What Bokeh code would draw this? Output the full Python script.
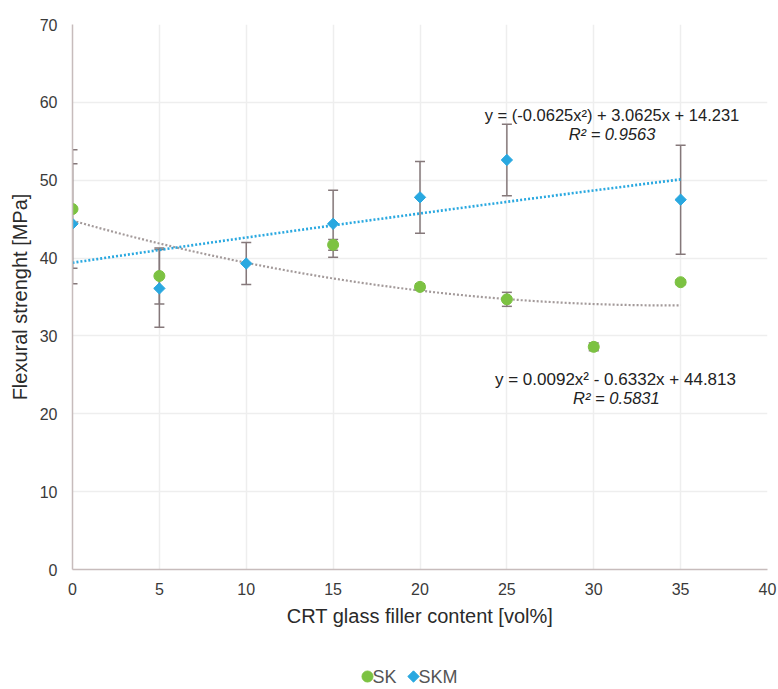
from bokeh.plotting import figure
from bokeh.layouts import column
from bokeh.models import ColumnDataSource, Whisker, TeeHead, Label, FixedTicker
from bokeh.core.properties import value
from bokeh.embed import file_html
from bokeh.resources import INLINE
import numpy as np

# ---- data ----
sk_x = [0, 5, 15, 20, 25, 30, 35]
sk_y = [46.3, 37.7, 41.7, 36.3, 34.7, 28.6, 36.9]
sk_err = [7.6, 3.6, 0.7, 0.4, 0.9, 0.5, 0.3]

skm_x = [0, 5, 10, 15, 20, 25, 35]
skm_y = [44.4, 36.1, 39.3, 44.4, 47.8, 52.6, 47.5]
skm_err = [7.7, 5.0, 2.7, 4.3, 4.6, 4.6, 7.0]

# trend-line coefficients (c2, c1, c0)
sk_trend = [0.0092, -0.6332, 44.813]
skm_trend = [-0.00071, 0.3307, 39.4]
trend_range = [0, 35]

x_ticks = [0, 5, 10, 15, 20, 25, 30, 35, 40]
y_ticks = [0, 10, 20, 30, 40, 50, 60, 70]

series_names = ["SK", "SKM"]
eq_skm = "y = (-0.0625x²) + 3.0625x + 14.231"
r2_skm = "R² = 0.9563"
eq_sk = "y = 0.0092x² - 0.6332x + 44.813"
r2_sk = "R² = 0.5831"

FONT = "Liberation Sans"
GREEN = "#7cc242"
BLUE = "#29a8e0"
ERR = "#85787a"

p = figure(width=778, height=640, x_range=(0, 40), y_range=(0, 70),
           output_backend="svg", toolbar_location=None,
           min_border_left=72, min_border_right=11, min_border_top=24,
           min_border_bottom=71)
p.outline_line_color = None
p.background_fill_color = "white"

for ax in (p.xaxis[0], p.yaxis[0]):
    ax.major_tick_line_color = None
    ax.minor_tick_line_color = None
    ax.major_tick_out = 0
    ax.axis_line_color = "#c7bcbc"
    ax.axis_line_width = 1.5
    ax.major_label_text_font = FONT
    ax.major_label_text_font_size = "16px"
    ax.major_label_text_color = "#3a3a3a"
    ax.axis_label_text_font = FONT
    ax.axis_label_text_font_size = "20px"
    ax.axis_label_text_font_style = "normal"
    ax.axis_label_text_color = "#2a2a2a"

p.xaxis.ticker = FixedTicker(ticks=x_ticks)
p.yaxis.ticker = FixedTicker(ticks=y_ticks)
p.xaxis.axis_label = "CRT glass filler content [vol%]"
p.yaxis.axis_label = "Flexural strenght [MPa]"
p.xaxis.major_label_standoff = 13
p.yaxis.major_label_standoff = 15
p.xaxis.axis_label_standoff = 7
p.yaxis.axis_label_standoff = 6

p.xgrid.grid_line_color = "#eeeeee"
p.ygrid.grid_line_color = "#eeeeee"
p.xgrid.grid_line_width = 1.5
p.ygrid.grid_line_width = 1.5

# trend lines
xs = np.linspace(trend_range[0], trend_range[1], 100)
sk_fit = np.polyval(sk_trend, xs)
skm_fit = np.polyval(skm_trend, xs)
p.line(xs, sk_fit, line_color="#a39a9a", line_width=2.2, line_dash="2 2")
p.line(xs, skm_fit, line_color=BLUE, line_width=2.6, line_dash="2 2")

# error bars
sk_src = ColumnDataSource(dict(x=sk_x, y=sk_y,
                               lo=[a - b for a, b in zip(sk_y, sk_err)],
                               hi=[a + b for a, b in zip(sk_y, sk_err)]))
skm_src = ColumnDataSource(dict(x=skm_x, y=skm_y,
                                lo=[a - b for a, b in zip(skm_y, skm_err)],
                                hi=[a + b for a, b in zip(skm_y, skm_err)]))
for src in (sk_src, skm_src):
    w = Whisker(base="x", lower="lo", upper="hi", source=src,
                line_color=ERR, line_width=1.5,
                upper_head=TeeHead(size=10, line_color=ERR, line_width=1.5),
                lower_head=TeeHead(size=10, line_color=ERR, line_width=1.5))
    p.add_layout(w)

p.scatter("x", "y", source=sk_src, marker="circle", size=11,
          fill_color=GREEN, line_color=GREEN)
p.scatter("x", "y", source=skm_src, marker="square", size=8, angle=np.pi / 4,
          fill_color=BLUE, line_color=BLUE)

# equations
for txt, xx, yy, st, fs in [(eq_skm, 31.05, 58.4, "normal", "16.5px"),
                            (r2_skm, 31.05, 55.9, "italic", "16.5px"),
                            (eq_sk, 31.25, 24.4, "normal", "17px"),
                            (r2_sk, 31.3, 22.0, "italic", "16.5px")]:
    p.add_layout(Label(x=xx, y=yy, text=txt, text_font=FONT, text_font_size=fs,
                       text_font_style=st, text_color="#222222",
                       text_align="center", text_baseline="middle"))

# legend strip below the chart (its frame is aligned with the main frame,
# so the x range spans the main frame's pixel columns 72..767)
lg = figure(width=778, height=49, x_range=(72, 767), y_range=(0, 49),
            output_backend="svg", toolbar_location=None,
            x_axis_location=None, y_axis_location=None,
            min_border_left=72, min_border_right=11, min_border_top=0,
            min_border_bottom=0)
lg.grid.visible = False
lg.outline_line_color = None
lg.scatter([367], [13], marker="circle", size=11, fill_color=GREEN, line_color=GREEN)
lg.scatter([413], [13], marker="square", size=8, angle=np.pi / 4,
           fill_color=BLUE, line_color=BLUE)
lg.text(x=[372, 418], y=[13, 13], text=series_names, text_font=value(FONT),
        text_font_size="18px", text_color="#555555", text_baseline="middle",
        text_align="left")

layout = column(p, lg, spacing=0)
open("out.html", "w").write(file_html(layout, INLINE))
